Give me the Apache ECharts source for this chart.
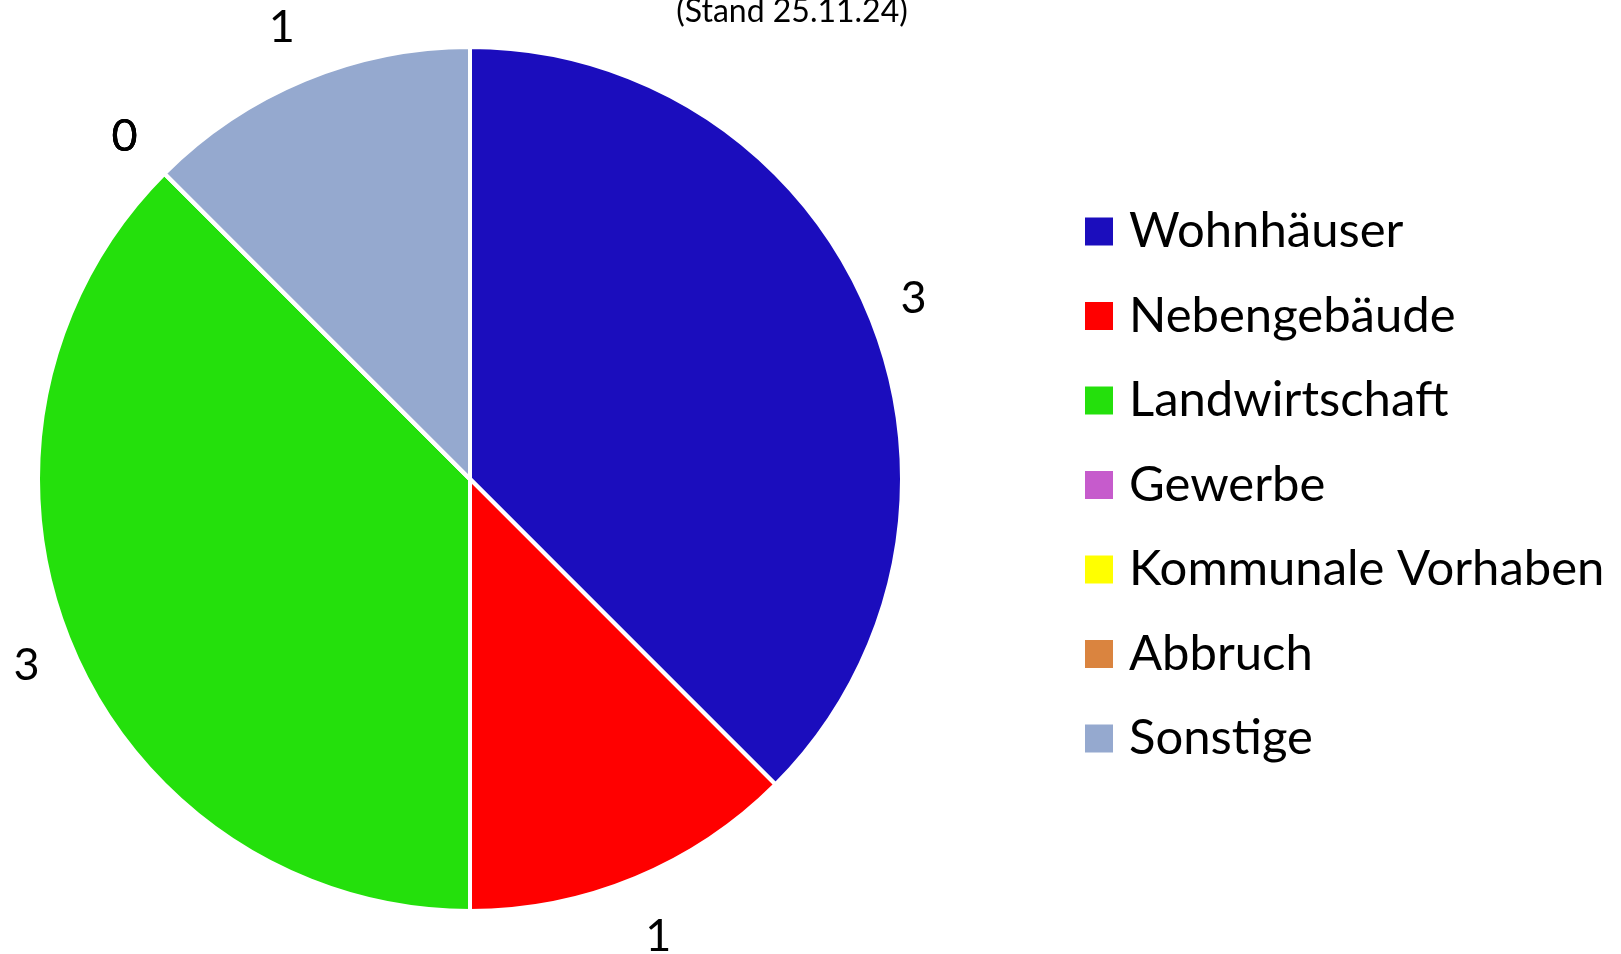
<!DOCTYPE html>
<html>
<head>
<meta charset="utf-8">
<script src="https://cdn.jsdelivr.net/npm/echarts@6/dist/echarts.min.js"></script>
<style>
  html, body { margin: 0; padding: 0; background: #fff; }
  #chart { width: 1621px; height: 954px; }
</style>
</head>
<body>
<div id="chart"></div>
<script>
// Kategorien und Werte (Stand 25.11.24)
const categories = ["Wohnhäuser", "Nebengebäude", "Landwirtschaft", "Gewerbe", "Kommunale Vorhaben", "Abbruch", "Sonstige"];
const values = [3, 1, 3, 0, 0, 0, 1];
const colors = ["#1b0dbd", "#ff0000", "#24e00c", "#c65bcc", "#ffff00", "#da843f", "#95a9cf"];

const center = [470, 479];
const radius = 432;

const total = values.reduce((a, b) => a + b, 0);
// Winkel der Segmentmitte (im Uhrzeigersinn ab 12 Uhr)
function midAngle(idx) {
  let before = 0;
  for (let i = 0; i < idx; i++) before += values[i];
  return ((before + values[idx] / 2) / total) * Math.PI * 2;
}

const chart = echarts.init(document.getElementById("chart"));
const option = {
  animation: false,
  textStyle: { fontFamily: "Lato" },
  title: {
    text: "(Stand 25.11.24)",
    left: 787,
    top: -9,
    textAlign: "center",
    textStyle: { fontSize: 32, fontWeight: "normal", color: "#000", fontFamily: "Lato" },
  },
  legend: {
    orient: "vertical",
    left: 1078,
    top: 202,
    icon: "rect",
    itemWidth: 30,
    itemHeight: 30,
    itemGap: 35.5,
    selectedMode: false,
    data: categories,
    textStyle: {
      fontSize: 49,
      lineHeight: 49,
      color: "#000",
      fontFamily: "Lato",
      padding: [0, 0, 0, 10],
    },
  },
  series: [
    {
      type: "pie",
      center: center,
      radius: radius,
      startAngle: 90,
      clockwise: true,
      avoidLabelOverlap: false,
      emphasis: { disabled: true },
      itemStyle: { borderColor: "#fff", borderWidth: 4 },
      label: {
        show: true,
        position: "outside",
        formatter: "{c}",
        fontSize: 45,
        color: "#000",
        fontFamily: "Lato",
      },
      labelLine: { show: false },
      // Beschriftung außerhalb des Kreises, Abstand je nach Richtung
      labelLayout: (params) => {
        const a = midAngle(params.dataIndex);
        const s = Math.sin(a);
        const c = Math.cos(a);
        const d = radius + 24 + Math.abs(s) * 12 + Math.abs(c) * 34;
        return {
          x: center[0] + d * s,
          y: center[1] - d * c + 3,
          align: "center",
          verticalAlign: "middle",
        };
      },
      data: categories.map((name, i) => ({
        name: name,
        value: values[i],
        itemStyle: { color: colors[i] },
      })),
    },
  ],
};
chart.setOption(option);
</script>
</body>
</html>
